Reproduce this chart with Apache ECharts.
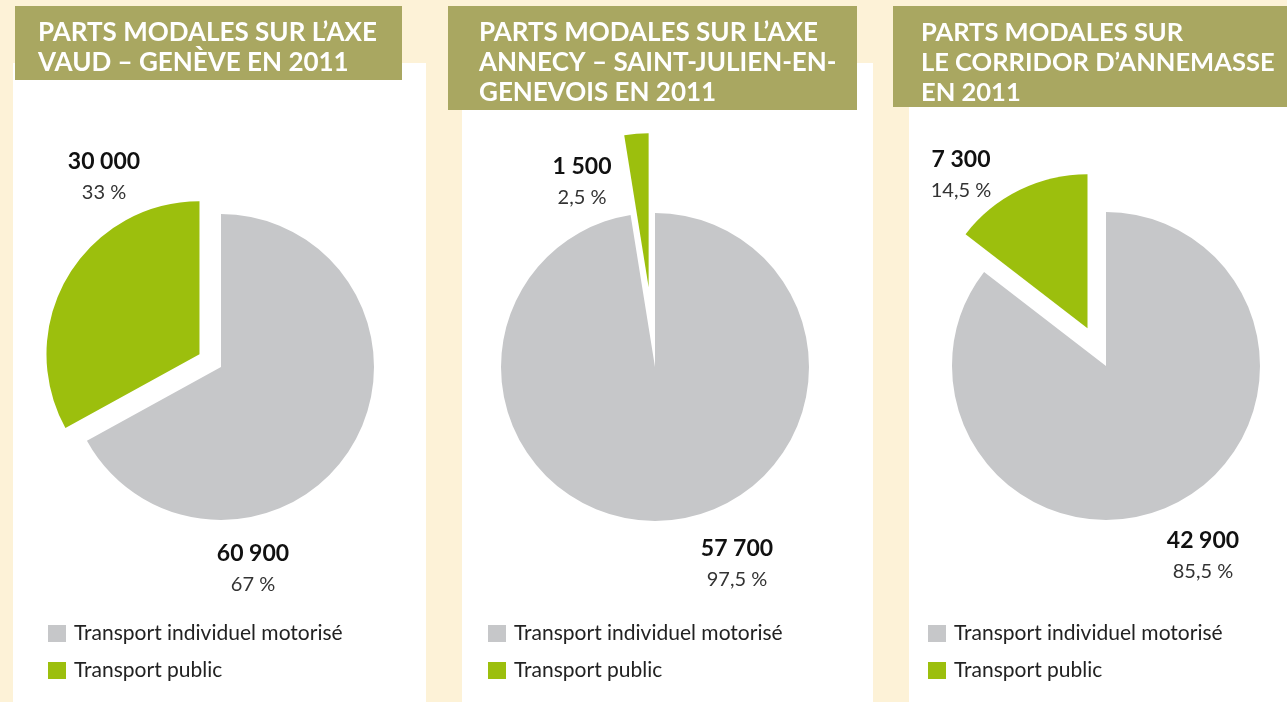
<!DOCTYPE html>
<html><head><meta charset="utf-8">
<script src="https://cdn.jsdelivr.net/npm/echarts@6/dist/echarts.min.js"></script>
<style>html,body{margin:0;padding:0;background:#fdf2d7}#c{width:1287px;height:702px}</style>
</head><body><div id="c"></div>
<script>
// ---- data ----
const categories = ['Transport individuel motorisé', 'Transport public'];
const chartTitles = [
  'PARTS MODALES SUR L’AXE\nVAUD – GENÈVE EN 2011',
  'PARTS MODALES SUR L’AXE\nANNECY – SAINT-JULIEN-EN-\nGENEVOIS EN 2011',
  'PARTS MODALES SUR\nLE CORRIDOR D’ANNEMASSE\nEN 2011'
];
const valuesVaudGeneve = [60900, 30000];
const valuesAnnecy = [57700, 1500];
const valuesAnnemasse = [42900, 7300];
const pctVaudGeneve = ['67 %', '33 %'];
const pctAnnecy = ['97,5 %', '2,5 %'];
const pctAnnemasse = ['85,5 %', '14,5 %'];

// ---- layout / style ----
const FONT = 'Lato, "Open Sans", sans-serif';
const GREY = '#c6c7c9', GREEN = '#9cbf0d', OLIVE = '#a9a761', CREAM = '#fdf2d7';
const panels = [
  {vals: valuesVaudGeneve, pct: pctVaudGeneve, cx: 221, cy: 367, r: 153, off: 25,
   lab: [[253, 569], [104, 177]], legendLeft: 48, titleLeft: 38, titleSize: 26,
   panel: [13, 63, 413, 639], box: [15, 6, 387, 74]},
  {vals: valuesAnnecy, pct: pctAnnecy, cx: 655, cy: 367, r: 154, off: 80,
   lab: [[737, 564], [582, 182]], legendLeft: 488, titleLeft: 479, titleSize: 26,
   panel: [462, 63, 411, 639], box: [448, 6, 409, 104]},
  {vals: valuesAnnemasse, pct: pctAnnemasse, cx: 1106, cy: 366, r: 154, off: 42,
   lab: [[1203, 556], [961, 175]], legendLeft: 928, titleLeft: 921, titleSize: 25.5,
   panel: [909, 63, 378, 639], box: [893, 6, 394, 101]}
];

function fmt(v) { return String(v).replace(/\B(?=(\d{3})+(?!\d))/g, ' '); }

const graphic = [];
panels.forEach(p => {
  graphic.push({type: 'rect', z: -20, shape: {x: p.panel[0], y: p.panel[1], width: p.panel[2], height: p.panel[3]}, style: {fill: '#fff'}});
  graphic.push({type: 'rect', z: -10, shape: {x: p.box[0], y: p.box[1], width: p.box[2], height: p.box[3]}, style: {fill: OLIVE}});
  // value labels, text taken from the data arrays
  p.vals.forEach((v, k) => {
    graphic.push({type: 'text', z: 10, x: p.lab[k][0], y: p.lab[k][1] - 15,
      style: {text: fmt(v), fill: '#111', font: 'bold 23px ' + FONT, textAlign: 'center', textVerticalAlign: 'middle'}});
    graphic.push({type: 'text', z: 10, x: p.lab[k][0], y: p.lab[k][1] + 16,
      style: {text: p.pct[k], fill: '#333', font: '20px ' + FONT, textAlign: 'center', textVerticalAlign: 'middle'}});
  });
});

const option = {
  backgroundColor: CREAM,
  animation: false,
  graphic: graphic,
  title: panels.map((p, i) => ({
    text: chartTitles[i], left: p.titleLeft, top: 18, padding: 0,
    textStyle: {color: '#fff', fontSize: p.titleSize, fontWeight: 'bold', lineHeight: 30, fontFamily: FONT}
  })),
  legend: panels.map(p => ({
    data: categories, orient: 'vertical', left: p.legendLeft, top: 623, padding: 0,
    icon: 'rect', itemWidth: 18, itemHeight: 17, itemGap: 16, selectedMode: false,
    textStyle: {fontSize: 21, color: '#222', fontFamily: FONT, padding: [0, 0, 0, 3]}
  })),
  series: panels.map((p, si) => ({
    type: 'pie', center: [p.cx, p.cy], radius: [0, p.r], startAngle: 90, clockwise: true,
    selectedMode: 'single', selectedOffset: p.off,
    emphasis: {disabled: true},
    itemStyle: {borderWidth: 0},
    label: {show: false},
    labelLine: {show: false},
    data: categories.map((c, k) => ({
      name: c, value: p.vals[k], selected: k === 1,
      itemStyle: {color: k === 0 ? GREY : GREEN}
    }))
  }))
};
const chart = echarts.init(document.getElementById('c'));
chart.setOption(option);
</script></body></html>
